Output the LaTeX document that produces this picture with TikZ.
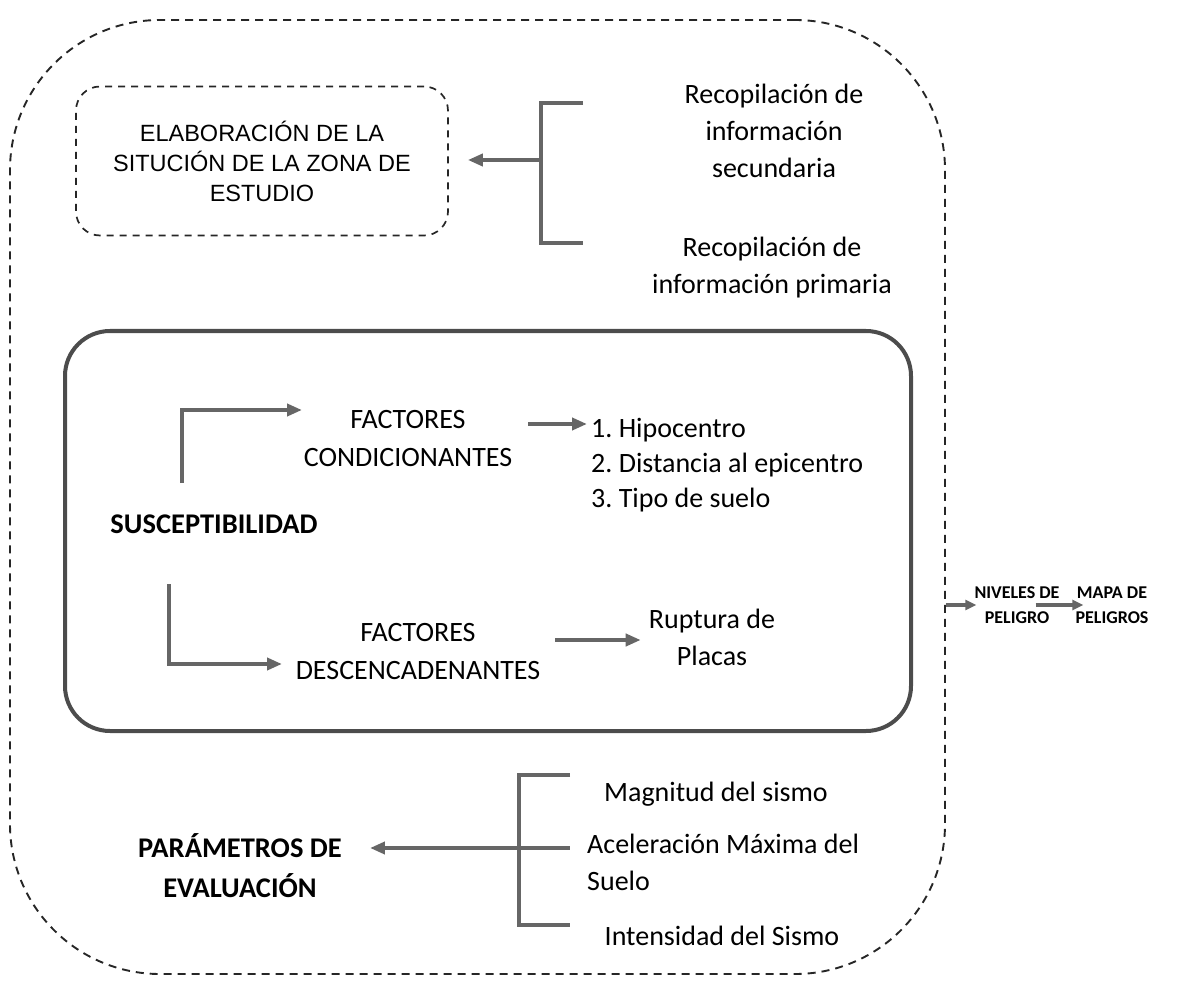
\documentclass[tikz,border=0pt]{standalone}
\usepackage{fontspec}
\setmainfont{Carlito}
\newfontfamily\arialf{Liberation Sans}
\usetikzlibrary{arrows.meta}
\frenchspacing
\begin{document}
\begin{tikzpicture}[x=1pt,y=-1pt,
  outerdash/.style={draw=black!85, line width=1.9pt, dash pattern=on 8pt off 6pt, rounded corners=150pt, inner sep=0pt},
  innerdash/.style={draw=black!85, line width=1.7pt, dash pattern=on 7pt off 6pt, rounded corners=24pt, inner sep=0pt},
  solidbox/.style={draw=black!70, line width=4pt, rounded corners=45pt, inner sep=0pt},
  garr/.style={draw=black!60, line width=4.5pt, -{Triangle[length=15pt,width=12pt]}},
  sarr/.style={draw=black!60, line width=3.5pt, -{Triangle[length=11pt,width=10pt]}},
  gline/.style={draw=black!60, line width=4.5pt},
  txt/.style={font=\fontsize{28}{37}\selectfont, align=center, inner sep=0pt},
  btxt/.style={font=\fontsize{28.5}{40}\selectfont\bfseries, align=center, inner sep=0pt},
  stxt/.style={font=\fontsize{18}{25}\selectfont\bfseries, align=center, inner sep=0pt},
]
\useasboundingbox (0,0) rectangle (1195,1003);

% boxes
\node[outerdash, minimum width=935pt, minimum height=954pt] (outer) at (477.5,497) {};
\node[solidbox, minimum width=846pt, minimum height=400pt] (mid) at (488,531) {};
\node[innerdash, minimum width=372pt, minimum height=149pt,
      font=\arialf\fontsize{23.5}{30}\selectfont, align=center] (elab) at (262,161)
      {ELABORACIÓN DE LA\\SITUCIÓN DE LA ZONA DE\\ESTUDIO};

% top bracket
\node[txt] (rec1) at (774,131) {Recopilación de\\información\\secundaria};
\node[txt] (rec2) at (772,268) {Recopilación de\\información primaria};
\coordinate (b1t) at (583,103);
\coordinate (b1b) at (583,243);
\coordinate (b1m) at (541,160);
\draw[gline] (b1t) -- (541,103) -- (541,243) -- (b1b);
\draw[garr, shorten >=19pt] (b1m) -- (elab.east |- b1m);

% susceptibilidad
\node[btxt] (susc) at (214,524) {SUSCEPTIBILIDAD};
\node[txt, font=\fontsize{28}{38}\selectfont] (fc) at (408,439) {FACTORES\\CONDICIONANTES};
\node[txt, align=left, anchor=west, font=\fontsize{28}{35}\selectfont] (list) at (591,465)
  {1. Hipocentro\\2. Distancia al epicentro\\3. Tipo de suelo};
\node[txt, font=\fontsize{28}{38}\selectfont] (fd) at (418,652) {FACTORES\\DESCENCADENANTES};
\node[txt] (rup) at (712,637) {Ruptura de\\Placas};

\coordinate (e1s) at (182,483);
\coordinate (e1e) at (302,410);
\draw[garr] (e1s) |- (e1e);
\coordinate (e2s) at (169,584);
\coordinate (e2e) at (282,664);
\draw[garr] (e2s) |- (e2e);
\draw[garr] (528,424) -- ([xshift=-4pt]list.west |- 0,424);
\draw[garr] (555,640) -- ([xshift=-8pt]rup.west |- 0,640);

% parametros
\node[btxt] (param) at (240,866) {PARÁMETROS DE\\EVALUACIÓN};
\node[txt] (mag) at (716,794) {Magnitud del sismo};
\node[txt, align=left, anchor=west] (acel) at (587,862) {Aceleración Máxima del\\Suelo};
\node[txt] (inten) at (722,936) {Intensidad del Sismo};
\coordinate (b2t) at (570,775);
\coordinate (b2b) at (570,925);
\coordinate (b2m) at (519,848);
\draw[gline] (b2t) -- (519,775) -- (519,925) -- (b2b);
\draw[gline] (b2m) -- (570,848);
\draw[garr, shorten >=28pt] (b2m) -- (param.east |- b2m);

% right side
\node[stxt] (niv) at (1017,605) {NIVELES DE\\PELIGRO};
\node[stxt] (mapa) at (1112,605) {MAPA DE\\PELIGROS};
\draw[sarr] (outer.east |- niv) -- ([xshift=2pt]niv.west);
\draw[sarr] ([xshift=-24pt]niv.east) -- ([xshift=8pt]mapa.west);
\end{tikzpicture}
\end{document}
